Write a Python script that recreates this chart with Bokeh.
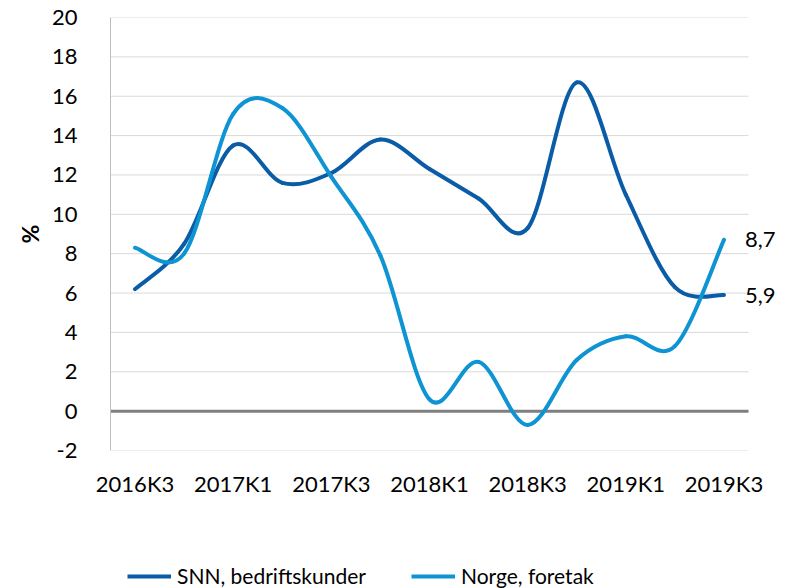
from bokeh.plotting import figure
from bokeh.layouts import column
from bokeh.models import FixedTicker, Legend, LegendItem, Label, Range1d, ColumnDataSource
from bokeh.embed import file_html
from bokeh.resources import INLINE

# Quarterly growth (%), 2016K3 - 2019K3
quarters = ["2016K3", "2016K4", "2017K1", "2017K2", "2017K3", "2017K4", "2018K1",
            "2018K2", "2018K3", "2018K4", "2019K1", "2019K2", "2019K3"]
snn = [6.2, 8.5, 13.5, 11.6, 12.1, 13.8, 12.3, 10.8, 9.3, 16.7, 11.0, 6.3, 5.9]
norge = [8.3, 8.0, 15.1, 15.4, 11.9, 7.9, 0.6, 2.5, -0.7, 2.6, 3.8, 3.3, 8.7]

series_names = ["SNN, bedriftskunder", "Norge, foretak"]
colors = ["#0a5ca6", "#0f94d3"]
y_ticks = list(range(-2, 21, 2))

FONT = "Lato"
TICK_SIZE = "22px"

n = len(quarters)
x_lo, x_hi = -0.5, n - 0.5
# room on the right of the last category for the end-value labels
x_extra = 0.815


def smooth_segments(ys):
    """Cubic Bezier segments through the points (Catmull-Rom style control points)."""
    xs = list(range(len(ys)))
    m = len(ys)
    d = dict(x0=[], y0=[], x1=[], y1=[], cx0=[], cy0=[], cx1=[], cy1=[])
    for i in range(m - 1):
        ip = max(i - 1, 0)
        inn = min(i + 2, m - 1)
        d["x0"].append(xs[i]); d["y0"].append(ys[i])
        d["x1"].append(xs[i + 1]); d["y1"].append(ys[i + 1])
        d["cx0"].append(xs[i] + (xs[i + 1] - xs[ip]) / 6)
        d["cy0"].append(ys[i] + (ys[i + 1] - ys[ip]) / 6)
        d["cx1"].append(xs[i + 1] - (xs[inn] - xs[i]) / 6)
        d["cy1"].append(ys[i + 1] - (ys[inn] - ys[i]) / 6)
    return ColumnDataSource(d)


p = figure(width=788, height=552, output_backend="svg", toolbar_location=None,
           x_range=Range1d(x_lo, x_hi + x_extra), y_range=Range1d(-2, 20),
           min_border_left=110, min_border_right=0, min_border_top=17,
           min_border_bottom=102)

p.outline_line_color = None
p.background_fill_color = "white"
p.border_fill_color = "white"
p.xgrid.visible = False
p.ygrid.visible = False

# horizontal grid lines across the category span only
p.segment(x0=[x_lo] * len(y_ticks), x1=[x_hi] * len(y_ticks), y0=y_ticks, y1=y_ticks,
          line_color="#d9d9d9", line_width=1)
# zero line
p.segment(x0=[x_lo], x1=[x_hi], y0=[0], y1=[0], line_color="#7f7f7f", line_width=3)

# y axis
p.yaxis.ticker = FixedTicker(ticks=y_ticks)
p.yaxis.major_label_overrides = {t: str(t) for t in y_ticks}
p.yaxis.axis_line_color = "#bfbfbf"
p.yaxis.axis_line_width = 1
p.yaxis.major_tick_line_color = None
p.yaxis.minor_tick_line_color = None
p.yaxis.major_label_text_font = FONT
p.yaxis.major_label_text_font_size = TICK_SIZE
p.yaxis.major_label_text_color = "black"
p.yaxis.major_label_standoff = 27
p.yaxis.axis_label = "%"
p.yaxis.axis_label_text_font = FONT
p.yaxis.axis_label_text_font_size = "23px"
p.yaxis.axis_label_text_font_style = "bold"
p.yaxis.axis_label_text_color = "black"
p.yaxis.axis_label_standoff = 5

# x axis
p.xaxis.ticker = FixedTicker(ticks=list(range(0, n, 2)))
p.xaxis.major_label_overrides = {i: q for i, q in enumerate(quarters)}
p.xaxis.axis_line_color = None
p.xaxis.major_tick_line_color = None
p.xaxis.minor_tick_line_color = None
p.xaxis.major_label_text_font = FONT
p.xaxis.major_label_text_font_size = TICK_SIZE
p.xaxis.major_label_text_color = "black"
p.xaxis.major_label_standoff = 13

renderers = []
for ys, col in zip([snn, norge], colors):
    src = smooth_segments(ys)
    r = p.bezier(x0="x0", y0="y0", x1="x1", y1="y1", cx0="cx0", cy0="cy0",
                 cx1="cx1", cy1="cy1", source=src, line_color=col, line_width=4,
                 line_cap="round")
    renderers.append(r)

# end-value labels
for ys in [snn, norge]:
    p.add_layout(Label(x=len(ys) - 1, y=ys[-1], x_offset=21,
                       text=f"{ys[-1]:.1f}".replace(".", ","),
                       text_font=FONT, text_font_size=TICK_SIZE,
                       text_baseline="middle", text_color="black"))

# legend strip underneath the chart (key lines sit outside its visible range)
lg = figure(width=788, height=36, output_backend="svg", toolbar_location=None,
            x_range=Range1d(0, 1), y_range=Range1d(0, 1),
            min_border_left=0, min_border_right=0, min_border_top=0, min_border_bottom=0)
lg.axis.visible = False
lg.grid.visible = False
lg.outline_line_color = None
lg.border_fill_color = "white"
keys = [lg.line(x=[5, 6], y=[5, 5], line_color=col, line_width=4) for col in colors]

legend = Legend(items=[LegendItem(label=nm, renderers=[r])
                       for nm, r in zip(series_names, keys)],
                orientation="horizontal", location=(17, 0),
                border_line_color=None, background_fill_alpha=0,
                padding=0, margin=0, spacing=45, glyph_width=44, glyph_height=24,
                label_standoff=6, label_text_font=FONT,
                label_text_font_size="21px", label_text_color="black")
lg.add_layout(legend)

layout = column(p, lg, spacing=0)
open("out.html", "w").write(file_html(layout, INLINE))
